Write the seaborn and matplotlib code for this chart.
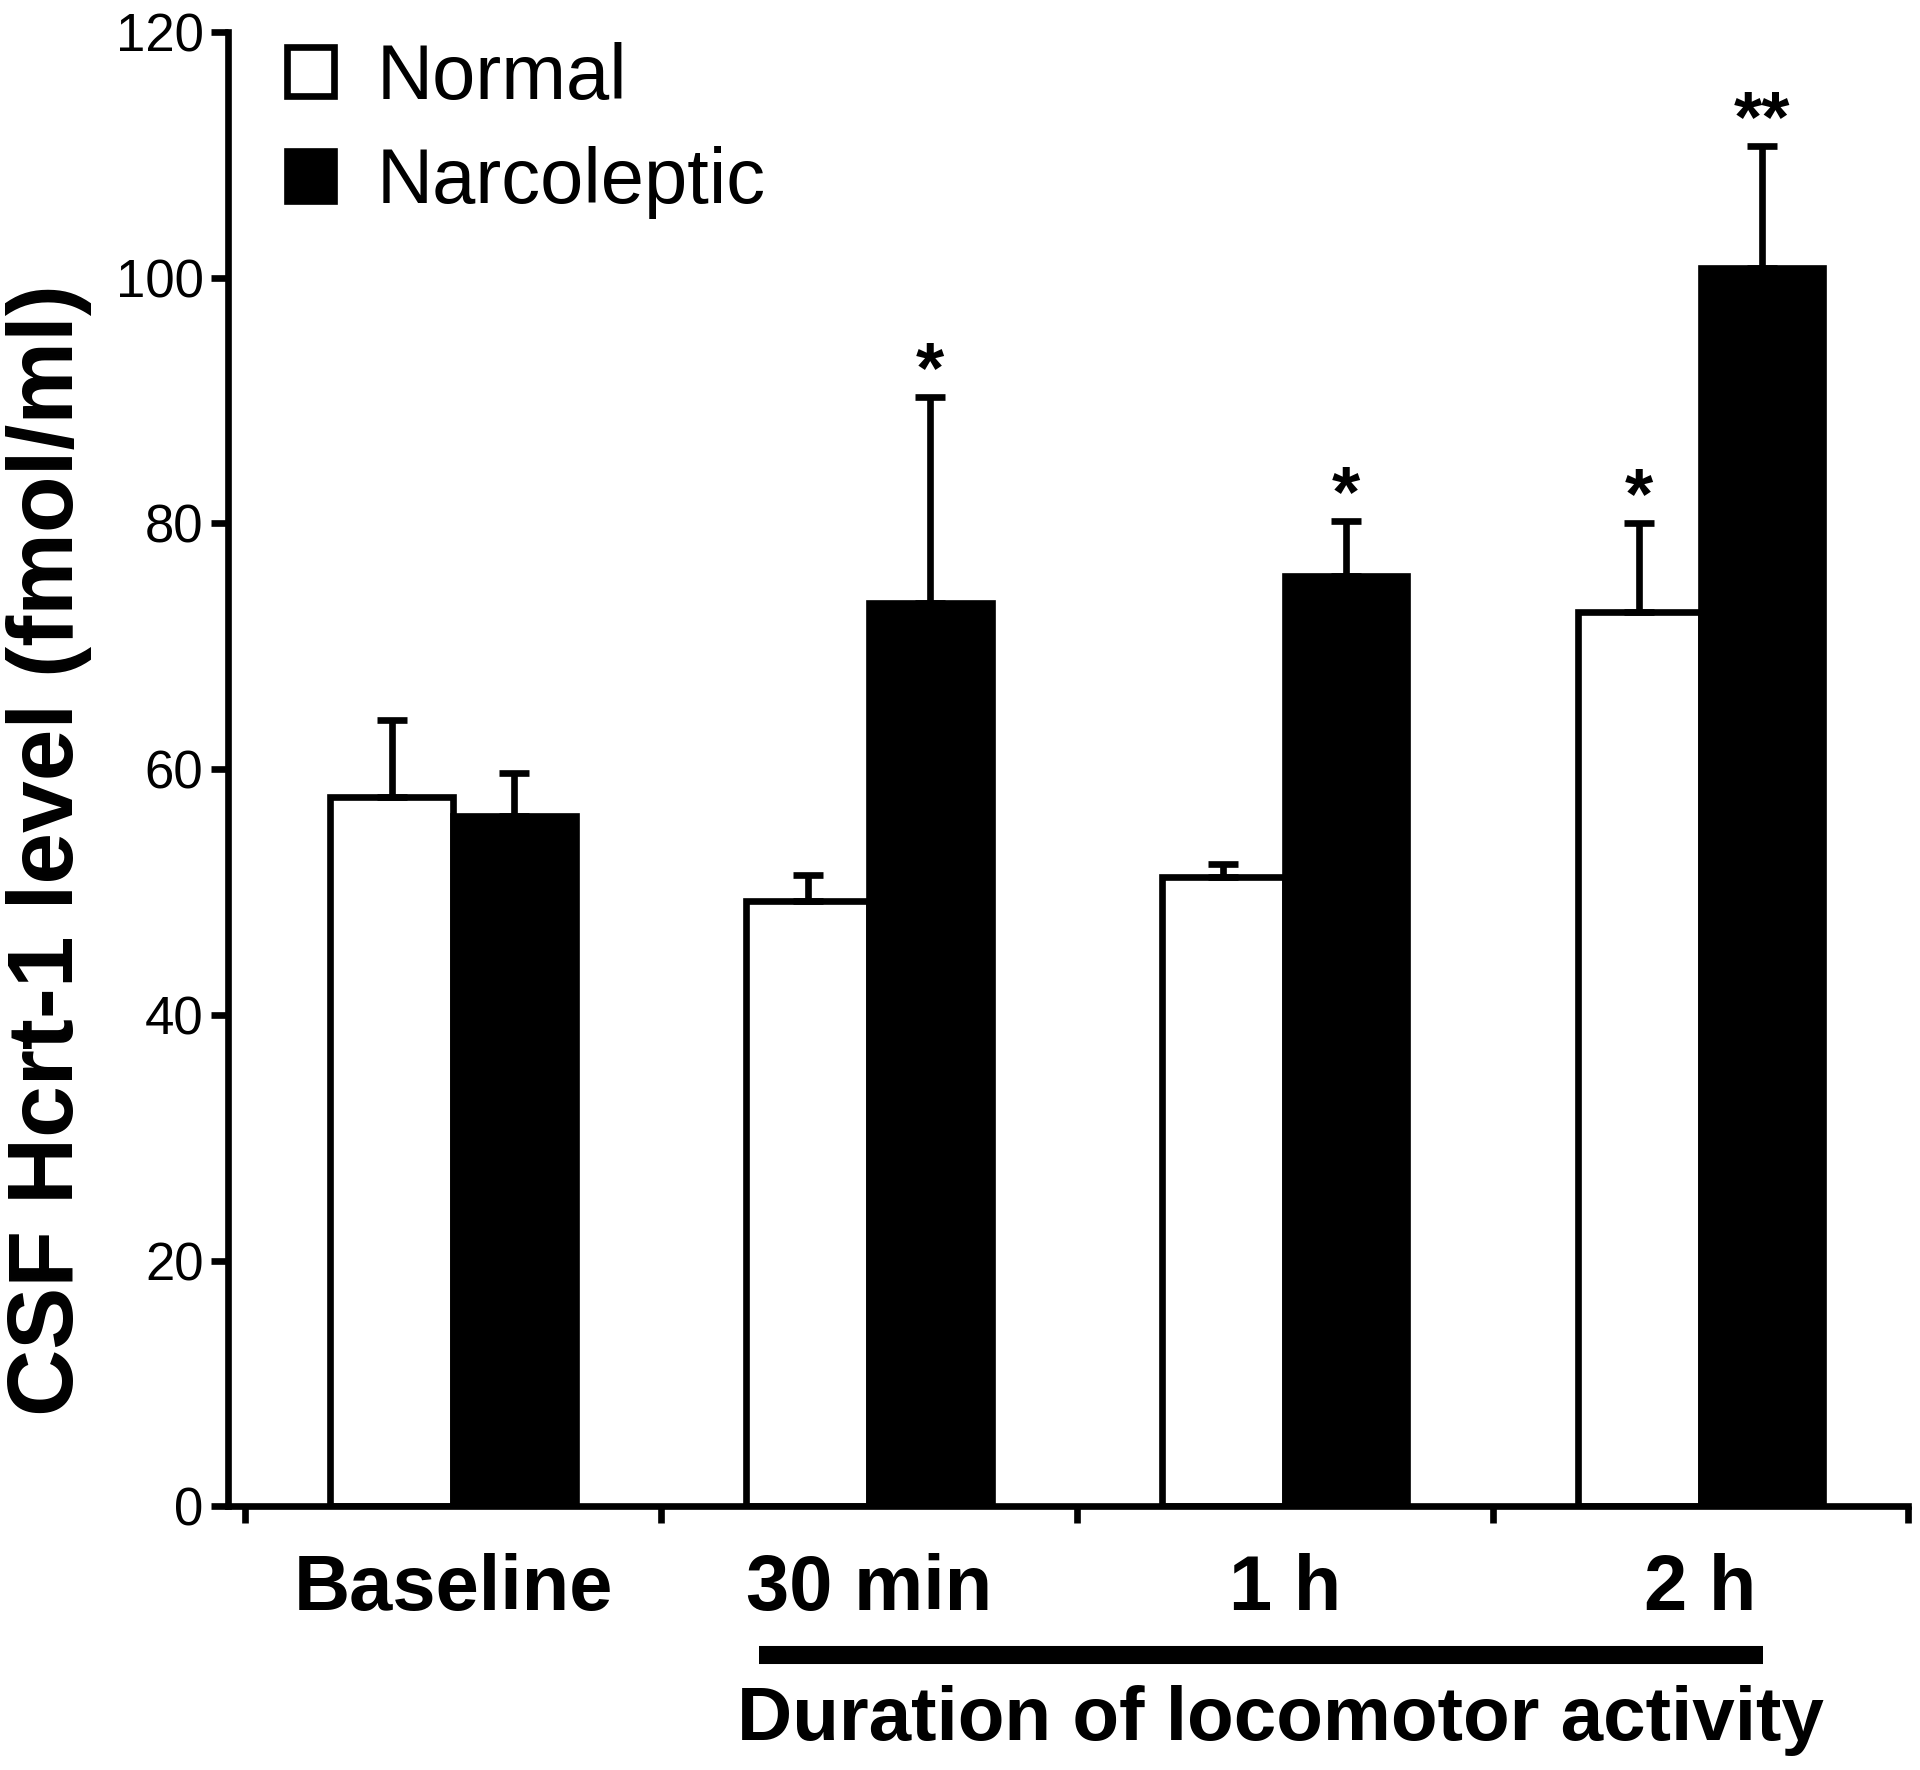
import numpy as np
import pandas as pd
import matplotlib

matplotlib.use("Agg")
import matplotlib.pyplot as plt
import matplotlib.transforms as mtransforms
import seaborn as sns

# ===================== 数据 =====================
groups = ["Baseline", "30 min", "1 h", "2 h"]
normal_mean = [57.7, 49.3, 51.2, 72.8]
normal_sem = [6.3, 2.1, 1.1, 7.2]
narco_mean = [56.2, 73.5, 75.7, 100.8]
narco_sem = [3.5, 16.8, 4.5, 9.9]
normal_star = ["", "", "", "*"]
narco_star = ["", "*", "*", "**"]
hue_names = ["Normal", "Narcoleptic"]

df = pd.DataFrame({
    "group": groups * 2,
    "level": normal_mean + narco_mean,
    "type": [hue_names[0]] * 4 + [hue_names[1]] * 4,
})

sns.set_style("ticks")
plt.rcParams["font.family"] = ["Liberation Sans", "DejaVu Sans"]
for k in ["text.color", "axes.labelcolor", "xtick.color", "ytick.color", "axes.edgecolor"]:
    plt.rcParams[k] = "black"

LW = 4.8
fig = plt.figure(figsize=(19.2, 17.7), dpi=100)
ax = fig.add_axes([0.119, 0.149, 0.875, 0.833])

sns.barplot(data=df, x="group", y="level", hue="type", order=groups,
            hue_order=hue_names, palette=["white", "black"], saturation=1,
            edgecolor="black", linewidth=LW, width=0.59, errorbar=None, ax=ax)

# 误差线（只画向上）+ 星号
bar_containers = list(ax.containers[:2])
for cont, means, sems, stars in zip(bar_containers, [normal_mean, narco_mean],
                                    [normal_sem, narco_sem], [normal_star, narco_star]):
    xs = [p.get_x() + p.get_width() / 2 for p in cont]
    ax.errorbar(xs, means, yerr=[np.zeros(len(sems)), sems], fmt="none",
                ecolor="black", elinewidth=LW, capsize=11, capthick=LW, zorder=4)
    for x, m, s, st in zip(xs, means, sems, stars):
        if st:
            ax.text(x, m + s + 0.4, st, ha="center", va="baseline",
                    fontsize=52, fontweight="bold")

# 坐标轴
ax.set_ylim(0, 120)
ax.set_yticks(np.arange(0, 121, 20))
ax.set_xlim(-0.54, 3.5)
ax.set_xticks([-0.5, 0.5, 1.5, 2.5, 3.5])
ax.set_xticklabels([])
ax.set_xticks(range(len(groups)), minor=True)
ax.set_xticklabels(groups, minor=True, fontsize=56, fontweight="bold")
ax.tick_params(axis="x", which="minor", length=0, pad=34)
ax.tick_params(axis="x", which="major", length=12, width=LW, direction="out")
ax.tick_params(axis="y", length=12, width=LW, labelsize=38, pad=6)
for s in ["left", "bottom"]:
    ax.spines[s].set_linewidth(LW)
sns.despine(ax=ax)

ax.set_xlabel("")
ax.set_ylabel("CSF Hcrt-1 level (fmol/ml)", fontsize=67, fontweight="bold")
ax.yaxis.set_label_coords(-0.081, 0.445)

# 图例
handles, labels = ax.get_legend_handles_labels()
ax.legend(handles, labels, loc="upper left", bbox_to_anchor=(0.035, 0.993),
          frameon=False, fontsize=56, handlelength=0.6, handleheight=0.6,
          handletextpad=0.55, labelspacing=0.4, borderpad=0, borderaxespad=0)

# 底部 "Duration" 标注线
trans = mtransforms.blended_transform_factory(ax.transData, ax.transAxes)
ax.plot([0.735, 3.15], [-0.101, -0.101], color="black", lw=13,
        solid_capstyle="butt", transform=trans, clip_on=False)
ax.text(1.99, -0.145, "Duration of locomotor activity", transform=trans,
        ha="center", va="center", fontsize=55, fontweight="bold")

fig.savefig("out.png", dpi=100)
plt.close()
